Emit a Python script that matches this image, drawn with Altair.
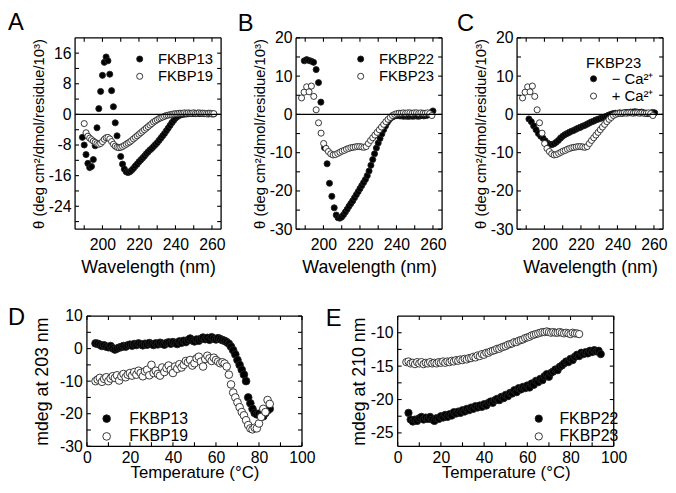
import altair as alt
import pandas as pd

FONT = "Liberation Sans"

# ---------------- Panel A ----------------
A13_x = list(range(189, 262))
A13_y = [-6.0, -8.0, -10.5, -12.8, -13.9, -13.6, -11.8, -8.2, -3.5, 1.5,
         6.0, 10.2, 13.6, 15.0, 14.0, 10.5, 6.2, 2.0, -2.2, -5.6,
         -8.6, -11.0, -13.0, -14.3, -15.0, -15.2, -15.0, -14.6, -14.1, -13.5,
         -13.0, -12.4, -11.9, -11.4, -10.9, -10.3, -9.8, -9.3, -8.9, -8.4,
         -7.9, -7.4, -6.8, -6.2, -5.6, -5.0, -4.3, -3.6, -2.9, -2.2,
         -1.6, -1.0, -0.6, -0.3, -0.1, 0.0, 0.1, 0.1, 0.2, 0.2,
         0.2, 0.3, 0.2, 0.3, 0.2, 0.2, 0.3, 0.2, 0.2, 0.1,
         0.2, 0.1, 0.1]
A19_x = list(range(190, 262))
A19_y = [-2.4, -4.8, -5.7, -6.2, -6.6, -7.0, -7.3, -7.6, -7.8, -7.6,
         -7.1, -6.5, -6.1, -6.0, -6.4, -7.1, -7.8, -8.3, -8.6, -8.7,
         -8.6, -8.4, -8.1, -7.8, -7.5, -7.2, -6.8, -6.4, -6.0, -5.6,
         -5.2, -4.8, -4.4, -4.0, -3.6, -3.2, -2.8, -2.4, -2.0, -1.7,
         -1.4, -1.1, -0.9, -0.7, -0.5, -0.3, -0.2, -0.1, 0.0, 0.1,
         0.2, 0.2, 0.3, 0.3, 0.3, 0.4, 0.3, 0.4, 0.3, 0.3,
         0.4, 0.3, 0.3, 0.4, 0.3, 0.3, 0.3, 0.2, 0.3, 0.3,
         0.2, 0.2]

# ---------------- Panel B ----------------
B22_x = [189.5, 190.8, 192.0, 193.3, 194.6, 196.0, 197.3, 198.6, 200.6, 202.0,
         203.3, 204.6, 205.9, 207.0, 208.0, 209.0] + list(range(210, 261))
B22_y = [14.0, 14.3, 14.1, 13.9, 13.6, 11.7, 8.3, 3.2, -8.7, -12.9,
         -18.0, -21.4, -24.4, -26.3, -27.0, -27.1,
         -26.8, -26.2, -25.5, -24.8, -24.0, -23.3, -22.6, -21.8, -21.0, -20.2,
         -19.4, -18.6, -17.8, -17.0, -16.0, -14.8, -13.3, -11.8, -10.3, -8.8,
         -7.5, -6.3, -5.1, -4.0, -3.0, -2.1, -1.4, -0.9, -0.6, -0.4,
         -0.3, -0.3, -0.4, -0.4, -0.5, -0.4, -0.5, -0.5, -0.4, -0.5,
         -0.4, -0.4, -0.5, -0.4, -0.3, -0.4, -0.3, -0.2, 0.1, 0.5,
         0.9]
F23_x = [188.0, 189.4, 190.8, 192.1, 193.4, 194.7, 196.0, 197.3, 198.7, 200.1,
         201.4, 202.7, 204.0, 205.3, 206.5, 207.8, 209.0, 210.2, 211.4, 212.6,
         213.8, 215.0, 216.2, 217.4, 218.6, 219.8, 221.0, 222.2, 223.4, 224.6,
         225.8, 227.0, 228.2, 229.4, 230.6, 231.8, 233.0, 234.2, 235.4, 236.6,
         237.8, 239.0, 240.2, 241.4, 242.6, 243.8, 245.0, 246.2, 247.4, 248.6,
         249.8, 251.0, 252.2, 253.4, 254.6, 255.8, 257.0, 258.2, 259.4]
F23_y = [4.3, 5.8, 7.2, 5.9, 7.4, 4.7, 1.2, -2.2, -4.9, -7.6,
         -8.9, -9.7, -10.3, -10.6, -10.5, -10.2, -9.9, -9.6, -9.4, -9.1,
         -8.9, -8.7, -8.6, -8.5, -8.4, -8.4, -8.5, -8.6, -8.4, -7.6,
         -6.8, -6.1, -5.4, -4.7, -4.0, -3.3, -2.6, -1.9, -1.3, -0.8,
         -0.3, 0.0, 0.2, 0.3, 0.3, 0.4, 0.3, 0.4, 0.4, 0.3,
         0.4, 0.4, 0.3, 0.4, 0.3, 0.3, 0.4, 0.2, -0.3]

# ---------------- Panel C ----------------
CM_x = [191.5, 192.8, 194.1, 195.4, 196.7, 198.0, 199.2, 200.4, 201.6, 202.8,
        204.0, 205.2, 206.4, 207.6, 208.8, 210.0, 211.2, 212.4, 213.6, 214.8,
        216.0, 217.2, 218.4, 219.6, 220.8, 222.0, 223.2, 224.4, 225.6, 226.8,
        228.0, 229.2, 230.4, 231.6, 232.8, 234.0, 235.2, 236.4, 237.6, 238.8,
        240.0, 241.2, 242.4, 243.6, 244.8, 246.0, 247.2, 248.4, 249.6, 250.8,
        252.0, 253.2, 254.4, 255.6, 256.8, 258.0, 259.2, 260.4]
CM_y = [-1.2, -1.9, -3.0, -4.0, -5.0, -5.7, -6.2, -6.9, -7.5, -7.8,
        -7.9, -7.7, -7.3, -6.8, -6.2, -5.7, -5.3, -5.0, -4.7, -4.4,
        -4.2, -3.9, -3.6, -3.4, -3.1, -2.9, -2.6, -2.3, -2.0, -1.8,
        -1.5, -1.3, -1.1, -0.9, -0.7, -0.5, -0.2, 0.0, 0.2, 0.3,
        0.3, 0.4, 0.3, 0.4, 0.5, 0.5, 0.6, 0.6, 0.7, 0.6,
        0.5, 0.6, 0.4, 0.3, 0.2, 0.3, 0.5, 0.4]

# ---------------- Panel D ----------------
D_T = list(range(4, 86))
D13_y = [1.6, 1.5, 1.2, 0.8, 1.0, 0.6, 0.4, 0.8, 0.1, -0.3,
         0.0, 0.3, 0.5, 0.8, 0.6, 1.0, 1.2, 0.9, 1.4, 1.1,
         1.6, 1.3, 1.0, 1.5, 1.2, 1.7, 1.4, 1.1, 1.6, 1.3,
         1.8, 1.5, 1.2, 1.7, 1.9, 1.5, 2.0, 1.7, 1.4, 2.2,
         1.8, 2.4, 2.0, 2.6, 3.1, 2.5, 2.2, 2.8, 2.4, 3.0,
         3.4, 2.9, 3.3, 2.7, 3.5, 3.1, 2.8, 3.2, 2.9, 2.6,
         2.4, 2.0, 1.5, 0.6, -0.5, -1.8, -3.5, -5.0, -6.5, -8.0,
         -10.0, -15.0, -16.8, -18.5, -19.8, -20.2, -20.0, -20.5, -20.8, -19.8,
         -19.0, -18.5]
D19_y = [-10.0, -9.5, -9.0, -10.2, -9.3, -8.8, -10.0, -9.2, -8.5, -9.0,
         -8.2, -9.8, -8.5, -7.8, -8.8, -8.0, -7.5, -8.3, -7.2, -8.0,
         -6.8, -7.5, -8.5, -7.0, -6.5, -8.2, -5.0, -7.5, -6.8, -7.8,
         -8.3, -5.8, -7.2, -6.0, -5.2, -6.5, -7.5, -5.5, -6.2, -4.8,
         -5.8, -5.0, -3.8, -4.2, -3.5, -5.2, -4.5, -3.0, -2.5, -4.0,
         -5.5, -3.2, -2.2, -3.0, -3.8, -2.8, -3.5, -4.0, -4.5, -4.2,
         -4.6, -5.5, -8.0, -11.0, -13.5, -15.0, -16.5, -18.0, -19.5, -20.5,
         -22.0, -23.5, -24.5, -24.8, -24.3, -24.5, -23.0, -21.0, -18.5, -19.5,
         -15.8, -17.0]

# ---------------- Panel E ----------------
E22_T = list(range(5, 95))
E22_y = [-22.0, -23.0, -23.3, -23.0, -23.2, -22.8, -22.6, -23.0, -22.7, -22.9,
         -22.6, -23.0, -23.2, -22.8, -22.9, -22.5, -22.7, -22.3, -22.6, -22.2,
         -22.4, -21.9, -22.1, -21.8, -22.0, -21.6, -21.8, -21.4, -21.6, -21.2,
         -21.4, -21.0, -21.2, -20.9, -21.1, -20.7, -20.9, -20.5, -20.3, -20.5,
         -20.1, -19.9, -20.1, -19.6, -19.8, -19.3, -19.5, -19.0, -19.1, -18.6,
         -18.9, -18.3, -18.5, -18.1, -18.3, -17.9, -18.2, -17.6, -17.8, -17.2,
         -17.4, -16.9, -17.1, -16.5, -16.2, -16.6, -16.0, -15.8, -15.5, -15.6,
         -15.1, -14.9, -14.6, -14.3, -14.4, -13.9, -14.1, -13.6, -13.3, -13.5,
         -13.0, -13.2, -12.9, -13.1, -12.7, -12.9, -12.6, -12.8, -12.7, -13.2]
E23_T = list(range(4, 85))
E23_y = [-14.4, -14.3, -14.6, -14.5, -14.7, -14.4, -14.6, -14.4, -14.7, -14.5,
         -14.6, -14.4, -14.6, -14.5, -14.6, -14.4, -14.5, -14.3, -14.5, -14.3,
         -14.4, -14.2, -14.3, -14.1, -14.2, -14.0, -14.1, -13.9, -14.0, -13.8,
         -13.8, -13.6, -13.7, -13.4, -13.5, -13.2, -13.3, -13.0, -13.0, -12.8,
         -12.7, -12.6, -12.4, -12.4, -12.2, -12.1, -12.0, -11.8, -11.7, -11.6,
         -11.4, -11.4, -11.2, -11.1, -11.0, -10.8, -10.7, -10.6, -10.4, -10.3,
         -10.2, -10.1, -10.0, -9.9, -9.9, -9.8, -9.9, -10.0, -9.9, -10.0,
         -10.0, -9.9, -10.0, -10.1, -10.0, -10.1, -10.2, -10.0, -10.1, -10.1,
         -10.2]

# tick values and labelled ticks
WL_TICKS = [190, 200, 210, 220, 230, 240, 250, 260]
WL_LABELS = [200, 220, 240, 260]
A_YTICKS = [-28, -24, -20, -16, -12, -8, -4, 0, 4, 8, 12, 16]
A_YLABELS = [-24, -16, -8, 0, 8, 16]
BC_YTICKS = [-25, -20, -15, -10, -5, 0, 5, 10, 15]
BC_YLABELS = [-30, -20, -10, 0, 10, 20]
T_TICKS = [10, 20, 30, 40, 50, 60, 70, 80, 90]
T_LABELS = [0, 20, 40, 60, 80, 100]
D_YTICKS = [-25, -20, -15, -10, -5, 0, 5]
D_YLABELS = [-30, -20, -10, 0, 10]
E_YTICKS = [-25, -22.5, -20, -17.5, -15, -12.5, -10]
E_YLABELS = [-25, -20, -15, -10]

YTITLE_CD = "\u03b8 (deg cm\u00b2/dmol/residue/10\u00b3)"
TL = 4  # inward tick length in px


def frame(xs_list, ys_list, names):
    rows = []
    for xs, ys, n in zip(xs_list, ys_list, names):
        for a, b in zip(xs, ys):
            rows.append({"x": a, "y": b, "s": n})
    return pd.DataFrame(rows)


def lexpr(majors):
    maj = ",".join(str(m) for m in majors)
    return ("indexof([" + maj + "], datum.value) >= 0 ? "
            "replace(datum.label, '\u2212', '-') : ''")


def panel(df, names, xdom, ydom, xt, xl, yt, yl, w, h, xtitle, ytitle,
          ytsize, xtsize, letter, ldx, ldy, leg, size, zero, xa, ya):
    xs = alt.Scale(domain=xdom, nice=False, zero=False)
    ys = alt.Scale(domain=ydom, nice=False, zero=False)
    # one axis definition per channel, shared by every layer so they merge
    xax = alt.Axis(values=sorted(xl), labelExpr=lexpr(xl), title=xtitle, offset=0,
                   ticks=False, labelPadding=xa["lp"], titlePadding=xa["tp"],
                   minExtent=xa["ext"], maxExtent=xa["ext"],
                   labelFlush=False, labelOverlap=False, titleFontSize=xtsize,
                   labelFontSize=16)
    yax = alt.Axis(values=sorted(yl), labelExpr=lexpr(yl), title=ytitle, offset=0,
                   ticks=False, labelPadding=ya["lp"], titlePadding=ya["tp"],
                   minExtent=ya["ext"], maxExtent=ya["ext"],
                   labelOverlap=False, titleFontSize=ytsize, labelFontSize=16)
    lkw = dict(orient="none", legendX=leg["x"], legendY=leg["y"],
               labelFontSize=leg["fs"], labelOffset=leg["lo"],
               rowPadding=leg["rp"], padding=0, symbolSize=size,
               symbolType="circle", symbolStrokeColor="#222222",
               symbolStrokeWidth=0.9, labelFont=FONT, labelColor="black",
               title=leg.get("title"))
    if leg.get("title"):
        lkw.update(titleFontSize=15, titleFontWeight="normal",
                   titlePadding=leg.get("tp", 4), titleFont=FONT,
                   titleColor="black", titleAnchor="start")
    legend = alt.Legend(**lkw)

    pts = alt.Chart(df).mark_point(
        shape="circle", filled=True, size=size, stroke="#222222",
        strokeWidth=0.9, opacity=1
    ).encode(
        x=alt.X("x:Q", scale=xs, axis=xax),
        y=alt.Y("y:Q", scale=ys, axis=yax),
        fill=alt.Fill("s:N", scale=alt.Scale(domain=names, range=["#000000", "#ffffff"]),
                      legend=legend),
    )
    # frame: rules at both ends of each domain
    fx = pd.DataFrame({"e": list(xdom)})
    fy = pd.DataFrame({"e": list(ydom)})
    xtd = pd.DataFrame({"t": sorted(set(xt) | set(xl))})
    ytd = pd.DataFrame({"t": sorted(set(yt) | set(yl))})
    deco = [
        alt.Chart(fx).mark_rule(color="black", strokeWidth=1.3).encode(
            x=alt.X("e:Q", scale=xs, axis=xax)),
        alt.Chart(fy).mark_rule(color="black", strokeWidth=1.3).encode(
            y=alt.Y("e:Q", scale=ys, axis=yax)),
        # inward ticks on all four sides
        alt.Chart(ytd).mark_rule(color="black", strokeWidth=1.1).encode(
            y=alt.Y("t:Q", scale=ys, axis=yax), x=alt.value(0), x2=alt.value(TL)),
        alt.Chart(ytd).mark_rule(color="black", strokeWidth=1.1).encode(
            y=alt.Y("t:Q", scale=ys, axis=yax), x=alt.value(w - TL), x2=alt.value(w)),
        alt.Chart(xtd).mark_rule(color="black", strokeWidth=1.1).encode(
            x=alt.X("t:Q", scale=xs, axis=xax), y=alt.value(h - TL), y2=alt.value(h)),
        alt.Chart(xtd).mark_rule(color="black", strokeWidth=1.1).encode(
            x=alt.X("t:Q", scale=xs, axis=xax), y=alt.value(0), y2=alt.value(TL)),
    ]
    if zero:
        deco.append(alt.Chart(pd.DataFrame({"z": [0]})).mark_rule(
            color="black", strokeWidth=1.1).encode(
            y=alt.Y("z:Q", scale=ys, axis=yax)))
    title = alt.TitleParams(letter, anchor="start", frame="group", dx=ldx,
                            dy=ldy, fontSize=24, font=FONT,
                            fontWeight="normal", offset=4, color="black")
    return alt.layer(pts, *deco).properties(width=w, height=h, title=title)


dfA = frame([A13_x, A19_x], [A13_y, A19_y], ["FKBP13", "FKBP19"])
dfB = frame([B22_x, F23_x], [B22_y, F23_y], ["FKBP22", "FKBP23"])
CA_NAMES = ["\u2212 Ca\u00b2\u207a", "+ Ca\u00b2\u207a"]
dfC = frame([CM_x, F23_x], [CM_y, F23_y], CA_NAMES)
dfD = frame([D_T, D_T], [D13_y, D19_y], ["FKBP13", "FKBP19"])
dfE = frame([E22_T, E23_T], [E22_y, E23_y], ["FKBP22", "FKBP23"])

TOP_X = {"lp": 8, "tp": 4, "ext": 25.7}
TOP_Y = {"lp": 4, "tp": 3, "ext": 26}
top_leg = {"x": 58, "y": 14, "fs": 15, "lo": 11, "rp": 1.5}

A = panel(dfA, ["FKBP13", "FKBP19"], [185, 265], [-30, 20], WL_TICKS, WL_LABELS,
          A_YTICKS, A_YLABELS, 148, 194, "Wavelength (nm)", YTITLE_CD, 15, 18,
          "A", -68, 2, top_leg, 38, True, TOP_X, TOP_Y)
B = panel(dfB, ["FKBP22", "FKBP23"], [185, 265], [-30, 20], WL_TICKS, WL_LABELS,
          BC_YTICKS, BC_YLABELS, 148, 194, "Wavelength (nm)", YTITLE_CD, 15, 18,
          "B", -59, 10, top_leg, 38, True, TOP_X, TOP_Y)
C = panel(dfC, CA_NAMES, [185, 265], [-30, 20],
          WL_TICKS, WL_LABELS, BC_YTICKS, BC_YLABELS, 148, 194, "Wavelength (nm)",
          YTITLE_CD, 15, 18, "C", -61, 10,
          {"x": 70, "y": 19, "fs": 15, "lo": 11, "rp": 1.5, "title": "FKBP23", "tp": 0},
          38, True, TOP_X, TOP_Y)
D = panel(dfD, ["FKBP13", "FKBP19"], [0, 100], [-30, 10], T_TICKS, T_LABELS,
          D_YTICKS, D_YLABELS, 218, 132, "Temperature (\u00b0C)", "mdeg at 203 nm",
          18, 17, "D", -80, 26, {"x": 12, "y": 96, "fs": 16, "lo": 15, "rp": 2}, 60,
          False, {"lp": 3, "tp": 0, "ext": 19}, {"lp": 4.7, "tp": 3, "ext": 33})
E = panel(dfE, ["FKBP22", "FKBP23"], [0, 100], [-27, -7.5], T_TICKS, T_LABELS,
          E_YTICKS, E_YLABELS, 219, 132, "Temperature (\u00b0C)", "mdeg at 210 nm",
          18, 17, "E", -73, 20, {"x": 135, "y": 96, "fs": 16, "lo": 13, "rp": 2}, 55,
          False, {"lp": 3, "tp": 0, "ext": 19}, {"lp": 4.7, "tp": 0, "ext": 30})

# invisible 1-px spacer that shifts the bottom row to the right of the top row
spacer = alt.Chart(pd.DataFrame({"k": [0]})).mark_point(opacity=0).encode(
    x=alt.X("k:Q", axis=None), y=alt.Y("k:Q", axis=None)
).properties(width=1, height=1)

top = alt.hconcat(A, B, C, spacing=76, bounds="flush").resolve_scale(
    fill="independent").resolve_legend(fill="independent")
de = alt.hconcat(D, E, spacing=97, bounds="flush").resolve_scale(
    fill="independent").resolve_legend(fill="independent")
bottom = alt.hconcat(spacer, de, spacing=11, bounds="flush").resolve_scale(
    fill="independent").resolve_legend(fill="independent")

chart = alt.vconcat(top, bottom, spacing=30).resolve_scale(
    fill="independent").resolve_legend(fill="independent").properties(
    padding={"left": 0, "top": 0, "right": 0, "bottom": 0},
    background="white",
).configure(font=FONT).configure_view(
    strokeOpacity=0
).configure_axis(
    labelFont=FONT, titleFont=FONT, labelColor="black", titleColor="black",
    titleFontWeight="normal", grid=False, domain=False,
)

chart.save("out.html", embed_options={"renderer": "svg", "actions": False})
